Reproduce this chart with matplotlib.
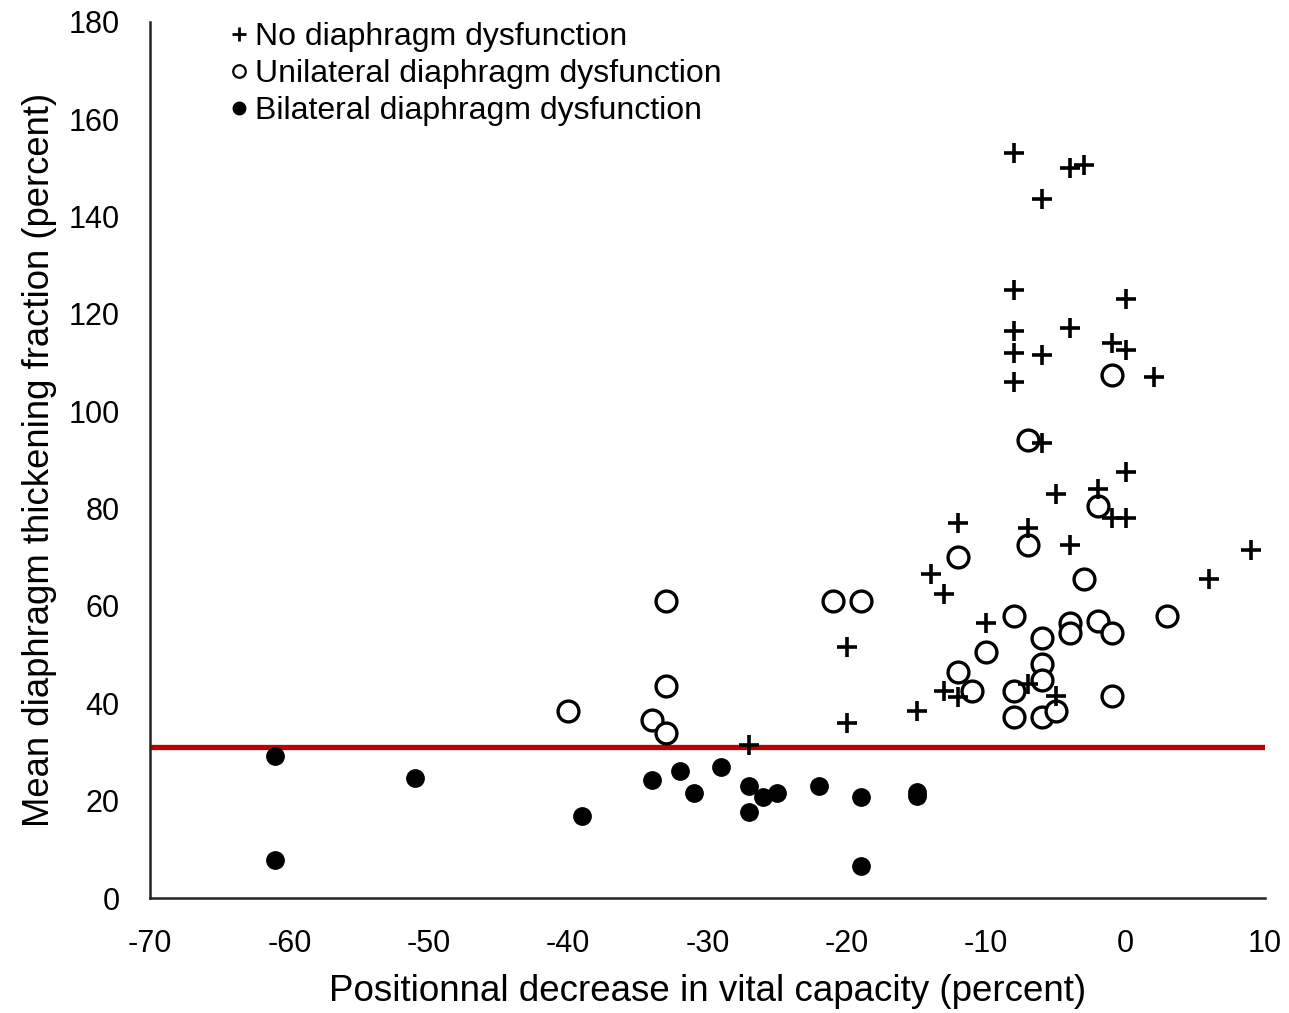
import matplotlib
matplotlib.use('Agg')
import matplotlib.pyplot as plt
from matplotlib.lines import Line2D

plt.rcParams['font.family'] = ['Liberation Sans', 'DejaVu Sans']
plt.rcParams['axes.unicode_minus'] = False

# No diaphragm dysfunction (+)
none_x = [-8, -4, -3, -6, -8, 0, -4, -8, -8, -6, -1, 0, -8, 2, -6, 0, -5, -2, -1, 0,
          -12, -7, -4, 9, -14, 6, -13, -10, -7, -13, -12, -5, -15, -20, -20, -27]
none_y = [153, 150, 150.6, 143.5, 125, 123, 117, 116.5, 112, 111.5, 114, 112.5, 106, 107,
          93.5, 87.5, 83, 84, 78, 78, 77, 76, 72.5, 71.5, 66.5, 65.5, 62.5, 56.5, 44,
          42.5, 41.3, 41.4, 38.5, 51.5, 36, 31.5]

# Unilateral diaphragm dysfunction (o)
uni_x = [-7, -1, -2, -7, -12, -3, -8, 3, -4, -2, -4, -1, -6, -10, -6, -12, -6, -8, -11,
         -1, -8, -6, -5, -33, -21, -19, -33, -40, -34, -33]
uni_y = [94, 107.5, 80.5, 72.5, 70, 65.5, 58, 58, 56.5, 57, 54.5, 54.5, 53.5, 50.5, 48,
         46.5, 44.7, 42.5, 42.5, 41.5, 37.1, 37.1, 38.4, 61, 61, 61, 43.5, 38.5, 36.5, 33.8]

# Bilateral diaphragm dysfunction (filled)
bi_x = [-61, -61, -51, -39, -34, -32, -31, -29, -27, -27, -26, -25, -22, -19, -19, -15, -15]
bi_y = [29.2, 7.8, 24.7, 16.8, 24.2, 26, 21.6, 27, 23, 17.6, 20.8, 21.6, 23, 20.8, 6.6, 21, 21.8]

threshold = 31

fig = plt.figure(figsize=(12.89, 10.13), dpi=100)
ax = fig.add_axes([0.1164, 0.1135, 0.865, 0.865])

ax.axhline(threshold, color='#c00000', lw=3.8, zorder=1)
ax.plot(none_x, none_y, '+', color='black', ms=14, mew=2.6, zorder=3)
ax.plot(uni_x, uni_y, 'o', mfc='white', mec='black', ms=15, mew=2.4, zorder=2)
ax.plot(bi_x, bi_y, 'o', color='black', ms=12.5, zorder=2)

ax.set_xlim(-70, 10)
ax.set_ylim(0, 180)
ax.set_xticks(range(-70, 11, 10))
ax.set_yticks(range(0, 181, 20))
ax.tick_params(length=0, labelsize=22)
ax.tick_params(axis='y', pad=22)
ax.tick_params(axis='x', pad=22)
for s in ['top', 'right']:
    ax.spines[s].set_visible(False)
for s in ['left', 'bottom']:
    ax.spines[s].set_linewidth(1.8)
    ax.spines[s].set_color('#222222')

ax.set_xlabel('Positionnal decrease in vital capacity (percent)', fontsize=26.5, labelpad=11)
ax.set_ylabel('Mean diaphragm thickening fraction (percent)', fontsize=26.3, labelpad=8)

handles = [
    Line2D([], [], ls='', marker='+', color='black', ms=10, mew=2),
    Line2D([], [], ls='', marker='o', mfc='white', mec='black', ms=9, mew=1.6),
    Line2D([], [], ls='', marker='o', color='black', ms=9),
]
labels = ['No diaphragm dysfunction', 'Unilateral diaphragm dysfunction',
          'Bilateral diaphragm dysfunction']
ax.legend(handles, labels, loc='upper left', bbox_to_anchor=(0.06, 1.014), frameon=False,
          fontsize=23, handlelength=0.6, handletextpad=0.2, labelspacing=0.22,
          borderaxespad=0)

fig.savefig('out.png', dpi=100)
